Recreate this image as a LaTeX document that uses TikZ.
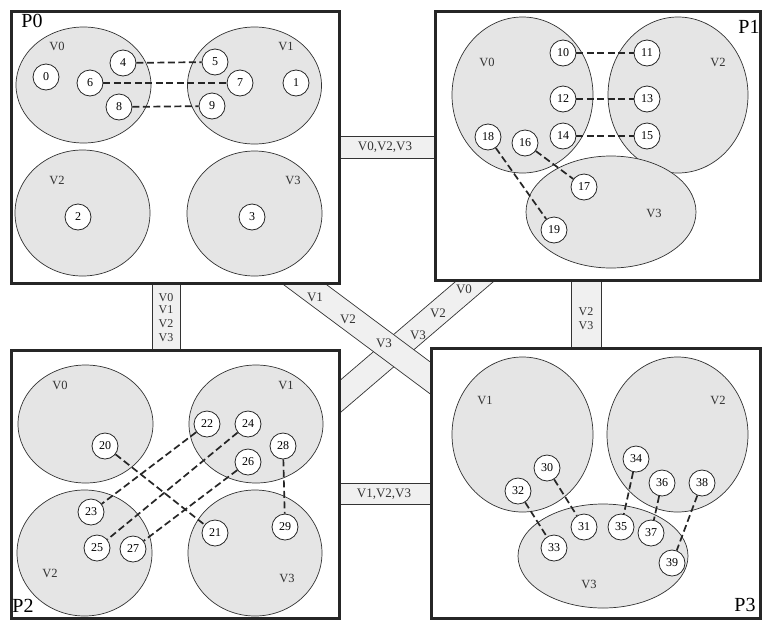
\documentclass[tikz,border=0pt]{standalone}
\usepackage{fontspec}
\setmainfont{Liberation Serif}
\usetikzlibrary{shapes.geometric}
\begin{document}
\begin{tikzpicture}[x=1pt,y=-1pt,
  pbox/.style={draw=black!85,line width=2.6pt,fill=white,inner sep=0pt,anchor=north west},
  vset/.style={ellipse,draw=black!80,line width=0.7pt,fill=black!10,inner sep=0pt},
  vn/.style={circle,draw=black!85,line width=0.8pt,fill=white,minimum size=26pt,inner sep=0pt,font=\fontsize{12}{12}\selectfont},
  dl/.style={line width=1.7pt,dash pattern=on 7pt off 3.5pt,draw=black!85},
  band/.style={draw=black!80,line width=0.7pt,fill=black!6},
  vlab/.style={font=\fontsize{12.5}{12}\selectfont,text=black!80,inner sep=0pt},
  blab/.style={font=\fontsize{13}{12}\selectfont,text=black!80,inner sep=0pt},
  slab/.style={font=\fontsize{12}{12}\selectfont,text=black!80,inner sep=0pt,text height=8pt,text depth=0pt},
  plab/.style={font=\fontsize{20}{20}\selectfont,inner sep=0pt}]
\useasboundingbox (0,0) rectangle (765,619);

% ---------- bands ----------
\draw[band] (330,136) rectangle (442,158);
\draw[band] (152,275) rectangle (180,356);
\draw[band] (571,272) rectangle (601,354);
\draw[band] (330,483) rectangle (438,504);
\draw[band] (466.7,272) -- (504.7,272) -- (330,421.4) -- (330,388.9) -- cycle;
\draw[band] (266.6,272) -- (309.6,272) -- (440,369.2) -- (440,401.2) -- cycle;

\node[blab] (bt) at (385,147) {V0,V2,V3};
\node[blab] (bb) at (384,494) {V1,V2,V3};
\node[slab] (bl0) at (166,297.5) {V0};
\node[slab] (bl1) at (166,309) {V1};
\node[slab] (bl2) at (166,323) {V2};
\node[slab] (bl3) at (166,337) {V3};
\node[slab] (br2) at (586,311) {V2};
\node[slab] (br3) at (586,325) {V3};
\node[blab] (ba1) at (315,297) {V1};
\node[blab] (ba2) at (348,319) {V2};
\node[blab] (ba3) at (384,343) {V3};
\node[blab] (bb0) at (464,289) {V0};
\node[blab] (bb2) at (438,313) {V2};
\node[blab] (bb3) at (418,335) {V3};

% ---------- boxes ----------
\node[pbox,minimum width=328pt,minimum height=272pt] (P0) at (10,10) {};
\node[pbox,minimum width=325pt,minimum height=269pt] (P1) at (434,10) {};
\node[pbox,minimum width=328pt,minimum height=268pt] (P2) at (10,349) {};
\node[pbox,minimum width=329pt,minimum height=270pt] (P3) at (430,347) {};

\node[plab] (lP0) at (32,21) {P0};
\node[plab] (lP1) at (749,27) {P1};
\node[plab] (lP2) at (23,606) {P2};
\node[plab] (lP3) at (745,605) {P3};

% ---------- P0 ----------
\node[vset,minimum width=135pt,minimum height=116pt] (p0v0) at (83.5,85) {};
\node[vset,minimum width=134pt,minimum height=117pt] (p0v1) at (254.5,85.5) {};
\node[vset,minimum width=135pt,minimum height=126pt] (p0v2) at (82.5,213) {};
\node[vset,minimum width=135pt,minimum height=125pt] (p0v3) at (254.5,213.5) {};
\node[vlab] (t0v0) at (57,46) {V0};
\node[vlab] (t0v1) at (286,46) {V1};
\node[vlab] (t0v2) at (57,180) {V2};
\node[vlab] (t0v3) at (293,180) {V3};
\node[vn] (n0) at (46,77) {0};
\node[vn] (n1) at (296,83) {1};
\node[vn] (n2) at (78,217) {2};
\node[vn] (n3) at (252,217) {3};
\node[vn] (n4) at (123,63) {4};
\node[vn] (n5) at (215,62) {5};
\node[vn] (n6) at (90,83) {6};
\node[vn] (n7) at (240,83) {7};
\node[vn] (n8) at (119,107) {8};
\node[vn] (n9) at (212,106) {9};
\draw[dl] (n4) -- (n5);
\draw[dl] (n6) -- (n7);
\draw[dl] (n8) -- (n9);

% ---------- P1 ----------
\node[vset,minimum width=141pt,minimum height=156pt] (p1v0) at (522.5,95) {};
\node[vset,minimum width=140pt,minimum height=156pt] (p1v2) at (678,95) {};
\node[vset,minimum width=170pt,minimum height=112pt] (p1v3) at (611,212) {};
\node[vlab] (t1v0) at (487,62) {V0};
\node[vlab] (t1v2) at (718,62) {V2};
\node[vlab] (t1v3) at (654,213) {V3};
\node[vn] (n10) at (563,53) {10};
\node[vn] (n11) at (647,53) {11};
\node[vn] (n12) at (563,99) {12};
\node[vn] (n13) at (647,99) {13};
\node[vn] (n14) at (563,136) {14};
\node[vn] (n15) at (647,136) {15};
\node[vn] (n16) at (525,143) {16};
\node[vn] (n17) at (584,187) {17};
\node[vn] (n18) at (488,137) {18};
\node[vn] (n19) at (554,230) {19};
\draw[dl] (n10) -- (n11);
\draw[dl] (n12) -- (n13);
\draw[dl] (n14) -- (n15);
\draw[dl] (n16) -- (n17);
\draw[dl] (n18) -- (n19);

% ---------- P2 ----------
\node[vset,minimum width=135pt,minimum height=118pt] (p2v0) at (85.5,424) {};
\node[vset,minimum width=134pt,minimum height=118pt] (p2v1) at (256,424) {};
\node[vset,minimum width=135pt,minimum height=126pt] (p2v2) at (84.5,553) {};
\node[vset,minimum width=134pt,minimum height=126pt] (p2v3) at (255,553) {};
\node[vlab] (t2v0) at (60,385) {V0};
\node[vlab] (t2v1) at (286,385) {V1};
\node[vlab] (t2v2) at (50,573) {V2};
\node[vlab] (t2v3) at (287,578) {V3};
\node[vn] (n20) at (105,446) {20};
\node[vn] (n21) at (215,533) {21};
\node[vn] (n22) at (207,424) {22};
\node[vn] (n23) at (91,512) {23};
\node[vn] (n24) at (248,424) {24};
\node[vn] (n25) at (97,548) {25};
\node[vn] (n26) at (248,462) {26};
\node[vn] (n27) at (133,549) {27};
\node[vn] (n28) at (283,446) {28};
\node[vn] (n29) at (285,527) {29};
\draw[dl] (n20) -- (n21);
\draw[dl] (n22) -- (n23);
\draw[dl] (n24) -- (n25);
\draw[dl] (n26) -- (n27);
\draw[dl] (n28) -- (n29);

% ---------- P3 ----------
\node[vset,minimum width=141pt,minimum height=155pt] (p3v1) at (522.5,434.5) {};
\node[vset,minimum width=141pt,minimum height=155pt] (p3v2) at (677.5,434.5) {};
\node[vset,minimum width=170pt,minimum height=104pt] (p3v3) at (603,556) {};
\node[vlab] (t3v1) at (485,400) {V1};
\node[vlab] (t3v2) at (718,400) {V2};
\node[vlab] (t3v3) at (589,584) {V3};
\node[vn] (n30) at (547,468) {30};
\node[vn] (n31) at (584,527) {31};
\node[vn] (n32) at (518,491) {32};
\node[vn] (n33) at (554,548) {33};
\node[vn] (n34) at (636,459) {34};
\node[vn] (n35) at (621,527) {35};
\node[vn] (n36) at (662,483) {36};
\node[vn] (n37) at (651,533) {37};
\node[vn] (n38) at (702,483) {38};
\node[vn] (n39) at (672,563) {39};
\draw[dl] (n30) -- (n31);
\draw[dl] (n32) -- (n33);
\draw[dl] (n34) -- (n35);
\draw[dl] (n36) -- (n37);
\draw[dl] (n38) -- (n39);
\end{tikzpicture}
\end{document}
